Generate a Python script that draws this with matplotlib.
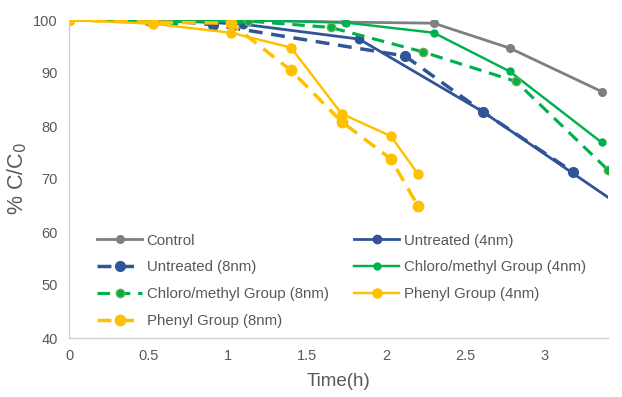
import matplotlib
matplotlib.use("Agg")
import matplotlib.pyplot as plt

plt.rcParams['font.family'] = ['Liberation Sans', 'DejaVu Sans']

# data
control_x = [0, 0.52, 1.13, 1.74, 2.30, 2.78, 3.36]
control_y = [100, 100, 100, 99.6, 99.4, 94.7, 86.5]

untr4_x = [0, 0.59, 1.10, 1.83, 2.61, 3.50]
untr4_y = [100, 100, 99.2, 96.4, 82.7, 64.5]

untr8_x = [0, 0.59, 0.91, 2.12, 2.61, 3.18]
untr8_y = [100, 100, 99.1, 93.2, 82.7, 71.3]

chl4_x = [0, 0.66, 1.07, 1.75, 2.30, 2.78, 3.36]
chl4_y = [100, 99.7, 100, 99.5, 97.6, 90.3, 76.9]

chl8_x = [0, 0.50, 1.13, 1.65, 2.23, 2.82, 3.40]
chl8_y = [100, 99.8, 99.8, 98.6, 94.0, 88.4, 71.7]

phe4_x = [0, 0.53, 1.02, 1.40, 1.72, 2.03, 2.20]
phe4_y = [100, 99.3, 97.6, 94.8, 82.3, 78.1, 71.0]

phe8_x = [0, 0.53, 1.02, 1.40, 1.72, 2.03, 2.20]
phe8_y = [100, 99.6, 99.4, 90.5, 80.8, 73.8, 65.0]

xticks = [0, 0.5, 1, 1.5, 2, 2.5, 3]
xtick_labels = ['0', '0.5', '1', '1.5', '2', '2.5', '3']
yticks = [40, 50, 60, 70, 80, 90, 100]

GRAY = '#7f7f7f'
BLUE = '#2f5597'
GREEN = '#00b050'
YELLOW = '#ffc000'
TXT = '#595959'
dash = (0, (4, 2.5))

fig = plt.figure(figsize=(6.22, 3.97), dpi=100)
ax = fig.add_axes([69/622, 1-338/397, 539/622, 318/397])

l_ctrl, = ax.plot(control_x, control_y, color=GRAY, lw=2, marker='o', ms=5.5, label='Control')
l_u4, = ax.plot(untr4_x, untr4_y, color=BLUE, lw=2, marker='o', ms=6, label='Untreated (4nm)')
l_u8, = ax.plot(untr8_x, untr8_y, color=BLUE, lw=2.5, ls=dash, marker='o', ms=7, label='Untreated (8nm)')
l_c4, = ax.plot(chl4_x, chl4_y, color=GREEN, lw=1.75, marker='o', ms=5, label='Chloro/methyl Group (4nm)')
l_c8, = ax.plot(chl8_x, chl8_y, color=GREEN, lw=2.25, ls=dash, marker='o', ms=6,
                mec='#70ad47', label='Chloro/methyl Group (8nm)')
l_p4, = ax.plot(phe4_x, phe4_y, color=YELLOW, lw=1.75, marker='o', ms=6.5, label='Phenyl Group (4nm)')
l_p8, = ax.plot(phe8_x, phe8_y, color=YELLOW, lw=2.5, ls=dash, marker='o', ms=7.5, label='Phenyl Group (8nm)')

ax.set_xlim(0, 3.40)
ax.set_ylim(40, 100)
ax.set_xticks(xticks)
ax.set_xticklabels(xtick_labels)
ax.set_yticks(yticks)
ax.tick_params(length=0, labelsize=10.5, colors=TXT, pad=8)

for s in ['top', 'right']:
    ax.spines[s].set_visible(False)
for s in ['left', 'bottom']:
    ax.spines[s].set_color('#d0d0d0')
    ax.spines[s].set_linewidth(1)

ax.set_xlabel('Time(h)', fontsize=13.5, color=TXT, labelpad=7)
ax.set_ylabel('% C/C$_0$', fontsize=15.5, color=TXT, labelpad=3)

# legend: matplotlib fills by column, so order the handles column by column
handles = [l_ctrl, l_u8, l_c8, l_p8, l_u4, l_c4, l_p4]
ax.legend(handles=handles, labels=[h.get_label() for h in handles], ncol=2,
          loc='upper left', bbox_to_anchor=(0.052, 0.328), frameon=False,
          fontsize=10.8, labelcolor=TXT, handlelength=3.0, handletextpad=0.3,
          labelspacing=0.85, columnspacing=1.7, borderpad=0, borderaxespad=0)

fig.savefig('out.png', dpi=100)
